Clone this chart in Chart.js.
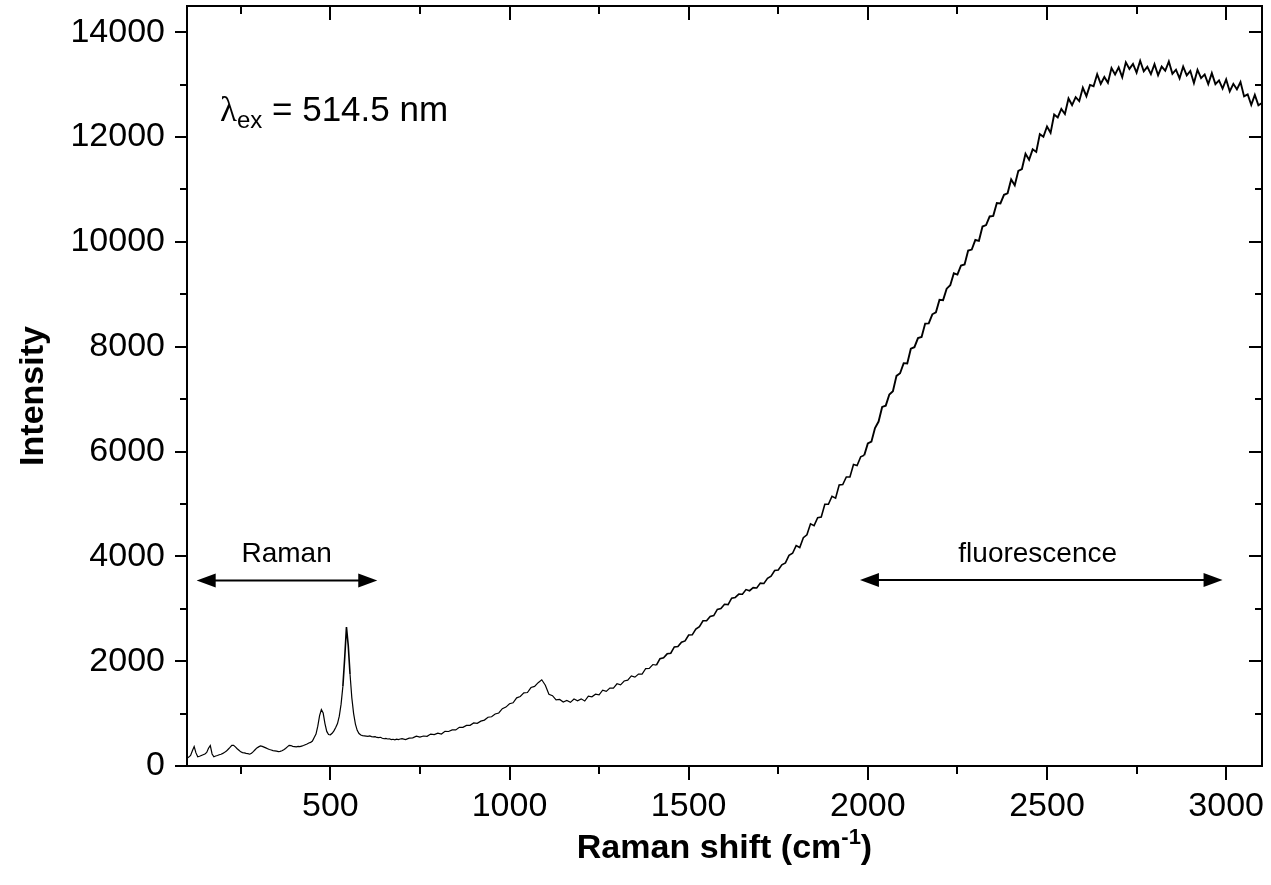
<!DOCTYPE html>
<html>
<head>
<meta charset="utf-8">
<script src="https://cdn.jsdelivr.net/npm/chart.js@4/dist/chart.umd.min.js"></script>
<style>
  body { margin: 0; background: #fff; }
  canvas { display: block; }
</style>
</head>
<body>
<canvas id="ramanChart" width="1271" height="885"></canvas>
<script>
// Raman shift sampling: low part every 5 cm-1 from 100, high part every 10 cm-1 from 700
var lowStart = 100, lowStep = 5;
var highStart = 700, highStep = 10;

// Intensity, 100..695 cm-1
var lowIntensity = [
    150, 170, 200, 290, 370, 250, 175, 185, 200, 215,
    230, 260, 340, 390, 230, 175, 190, 200, 215, 225,
    240, 260, 285, 320, 355, 395, 395, 365, 330, 300,
    270, 255, 250, 240, 235, 225, 245, 275, 310, 345,
    365, 385, 375, 360, 345, 330, 315, 305, 295, 290,
    285, 275, 280, 290, 310, 335, 365, 395, 390, 375,
    370, 365, 375, 370, 380, 390, 405, 420, 440, 450,
    475, 545, 610, 760, 960, 1075, 1010, 810, 660, 600,
    595, 625, 670, 735, 810, 950, 1180, 1520, 2050, 2650,
    2300, 1750, 1300, 1000, 800, 680, 620, 590, 580, 575,
    570, 565, 575, 560, 555, 560, 545, 540, 548, 530,
    520, 525, 515, 520, 505, 510, 500, 512, 505, 515
];

// Intensity, 700..3100 cm-1
var highIntensity = [
    522, 504, 531, 536, 570, 550, 572, 567, 609, 599,
    628, 610, 661, 658, 690, 688, 738, 737, 774, 776,
    822, 814, 856, 876, 930, 940, 992, 1012, 1094, 1124,
    1188, 1205, 1300, 1327, 1395, 1402, 1497, 1518, 1590, 1645,
    1540, 1368, 1342, 1262, 1270, 1220, 1249, 1214, 1278, 1243,
    1281, 1240, 1332, 1321, 1370, 1356, 1446, 1424, 1488, 1487,
    1569, 1548, 1622, 1637, 1720, 1695, 1754, 1754, 1858, 1863,
    1936, 1925, 2047, 2066, 2140, 2151, 2271, 2279, 2363, 2387,
    2499, 2503, 2612, 2657, 2770, 2770, 2854, 2869, 2988, 3003,
    3086, 3080, 3202, 3216, 3280, 3276, 3366, 3344, 3403, 3397,
    3489, 3483, 3582, 3622, 3730, 3740, 3839, 3874, 4018, 4058,
    4204, 4168, 4357, 4412, 4620, 4585, 4739, 4749, 4993, 4993,
    5146, 5110, 5362, 5371, 5515, 5516, 5751, 5734, 5898, 5927,
    6154, 6188, 6447, 6572, 6850, 6875, 7089, 7149, 7443, 7493,
    7686, 7680, 7962, 7991, 8165, 8186, 8441, 8444, 8618, 8657,
    8894, 8888, 9107, 9172, 9400, 9375, 9549, 9569, 9833, 9853,
    10036, 10020, 10292, 10321, 10485, 10496, 10741, 10734, 10898, 10927,
    11190, 11080, 11355, 11390, 11680, 11565, 11765, 11715, 12055, 12005,
    12200, 12080, 12430, 12375, 12535, 12440, 12735, 12610, 12760, 12685,
    12940, 12780, 12995, 12970, 13200, 13015, 13145, 13035, 13315, 13195,
    13330, 13140, 13425, 13300, 13395, 13230, 13455, 13255, 13340, 13200,
    13390, 13180, 13345, 13265, 13440, 13205, 13285, 13120, 13345, 13175,
    13260, 13030, 13280, 13125, 13195, 13010, 13220, 13010, 13080, 12925,
    13100, 12870, 13015, 12910, 13050, 12775, 12815, 12615, 12805, 12605,
    12650
];

var xTicks = [500, 1000, 1500, 2000, 2500, 3000];
var xMinorTicks = [250, 750, 1250, 1750, 2250, 2750];
var yTicks = [0, 2000, 4000, 6000, 8000, 10000, 12000, 14000];
var yMinorTicks = [1000, 3000, 5000, 7000, 9000, 11000, 13000];

var FONT = "'Liberation Sans', Arial, sans-serif";

// build the {x, y} points for the line
var points = [];
lowIntensity.forEach(function(v, i) {
    points.push({ x: lowStart + i * lowStep, y: v });
});
highIntensity.forEach(function(v, i) {
    points.push({ x: highStart + i * highStep, y: v });
});

// draw a run of text pieces (for sub/superscripts)
function drawPieces(ctx, pieces, x, y, align) {
    var total = 0;
    pieces.forEach(function(p) {
        ctx.font = p.font;
        p.w = ctx.measureText(p.text).width;
        total += p.w;
    });
    var cx = align === 'center' ? x - total / 2 : x;
    ctx.textAlign = 'left';
    ctx.textBaseline = 'alphabetic';
    pieces.forEach(function(p) {
        ctx.font = p.font;
        ctx.fillText(p.text, cx, y + (p.dy || 0));
        cx += p.w;
    });
}

function drawArrow(ctx, x1, x2, y) {
    var head = 19, half = 7;
    ctx.beginPath();
    ctx.moveTo(x1 + head - 2, y);
    ctx.lineTo(x2 - head + 2, y);
    ctx.lineWidth = 2;
    ctx.stroke();
    ctx.beginPath();
    ctx.moveTo(x1, y);
    ctx.lineTo(x1 + head, y - half);
    ctx.lineTo(x1 + head, y + half);
    ctx.closePath();
    ctx.fill();
    ctx.beginPath();
    ctx.moveTo(x2, y);
    ctx.lineTo(x2 - head, y - half);
    ctx.lineTo(x2 - head, y + half);
    ctx.closePath();
    ctx.fill();
}

var framePlugin = {
    id: 'frame',
    afterDraw: function(chart) {
        var ctx = chart.ctx;
        var a = chart.chartArea;
        var xs = chart.scales.x, ys = chart.scales.y;
        ctx.save();
        ctx.strokeStyle = '#000';
        ctx.fillStyle = '#000';

        // frame
        ctx.lineWidth = 2;
        ctx.strokeRect(a.left, a.top, a.right - a.left, a.bottom - a.top);

        // ticks: outside on bottom/left, inside on top/right
        ctx.beginPath();
        xTicks.forEach(function(v) {
            var px = Math.round(xs.getPixelForValue(v));
            ctx.moveTo(px, a.bottom); ctx.lineTo(px, a.bottom + 14);
            ctx.moveTo(px, a.top); ctx.lineTo(px, a.top + 14);
        });
        xMinorTicks.forEach(function(v) {
            var px = Math.round(xs.getPixelForValue(v));
            ctx.moveTo(px, a.bottom); ctx.lineTo(px, a.bottom + 8);
            ctx.moveTo(px, a.top); ctx.lineTo(px, a.top + 8);
        });
        yTicks.forEach(function(v) {
            var py = Math.round(ys.getPixelForValue(v));
            ctx.moveTo(a.left, py); ctx.lineTo(a.left - 12, py);
            ctx.moveTo(a.right, py); ctx.lineTo(a.right - 13, py);
        });
        yMinorTicks.forEach(function(v) {
            var py = Math.round(ys.getPixelForValue(v));
            ctx.moveTo(a.left, py); ctx.lineTo(a.left - 7, py);
            ctx.moveTo(a.right, py); ctx.lineTo(a.right - 7, py);
        });
        ctx.lineWidth = 2;
        ctx.stroke();

        // axis titles
        drawPieces(ctx, [
            { text: 'Raman shift (cm', font: 'bold 34px ' + FONT },
            { text: '-1', font: 'bold 22px ' + FONT, dy: -14 },
            { text: ')', font: 'bold 34px ' + FONT }
        ], (a.left + a.right) / 2, 858, 'center');

        ctx.save();
        ctx.translate(43, 396);
        ctx.rotate(-Math.PI / 2);
        ctx.font = 'bold 34px ' + FONT;
        ctx.textAlign = 'center';
        ctx.textBaseline = 'alphabetic';
        ctx.fillText('Intensity', 0, 0);
        ctx.restore();

        // annotations, placed in data coordinates
        drawPieces(ctx, [
            { text: 'λ', font: "35px 'Liberation Serif', serif" },
            { text: 'ex', font: '24px ' + FONT, dy: 7 },
            { text: ' = 514.5 nm', font: '35px ' + FONT }
        ], xs.getPixelForValue(192), ys.getPixelForValue(12300), 'left');

        ctx.font = '28px ' + FONT;
        ctx.textAlign = 'center';
        ctx.textBaseline = 'alphabetic';
        ctx.fillText('Raman', xs.getPixelForValue(378), ys.getPixelForValue(3900));
        ctx.fillText('fluorescence', xs.getPixelForValue(2474), ys.getPixelForValue(3900));

        drawArrow(ctx, xs.getPixelForValue(127), xs.getPixelForValue(631), ys.getPixelForValue(3540));
        drawArrow(ctx, xs.getPixelForValue(1978), xs.getPixelForValue(2990), ys.getPixelForValue(3550));

        ctx.restore();
    }
};

function plainLabel(v) { return String(v); }

var ctx = document.getElementById('ramanChart');
var ramanChart = new Chart(ctx, {
    type: 'line',
    data: {
        datasets: [{
            data: points,
            borderColor: '#000',
            borderWidth: 1.3,
            pointRadius: 0,
            tension: 0,
            fill: false,
            segment: {
                // the noisy fluorescence part reads as a thicker trace
                borderWidth: function(c) {
                    var y = Math.max(c.p0.parsed.y, c.p1.parsed.y);
                    return y > 6000 ? 1.9 : (y > 2000 ? 1.6 : 1.2);
                }
            }
        }]
    },
    options: {
        responsive: false,
        animation: false,
        layout: { padding: { top: 6, right: 9, left: 0, bottom: 0 } },
        plugins: {
            legend: { display: false },
            tooltip: { enabled: false }
        },
        scales: {
            x: {
                type: 'linear',
                min: 100,
                max: 3100,
                grid: { display: false, drawTicks: false },
                border: { display: false },
                ticks: {
                    color: '#000',
                    font: { family: FONT, size: 34 },
                    padding: 20,
                    maxRotation: 0,
                    callback: plainLabel
                },
                afterBuildTicks: function(scale) {
                    scale.ticks = xTicks.map(function(v) { return { value: v }; });
                },
                afterFit: function(scale) {
                    scale.height = 119;
                    scale.paddingLeft = 0;
                    scale.paddingRight = 0;
                }
            },
            y: {
                type: 'linear',
                min: 0,
                max: 14500,
                grid: { display: false, drawTicks: false },
                border: { display: false },
                ticks: {
                    color: '#000',
                    font: { family: FONT, size: 34 },
                    padding: 22,
                    callback: plainLabel
                },
                afterBuildTicks: function(scale) {
                    scale.ticks = yTicks.map(function(v) { return { value: v }; });
                },
                afterFit: function(scale) {
                    scale.width = 187;
                    scale.paddingTop = 0;
                    scale.paddingBottom = 0;
                }
            }
        }
    },
    plugins: [framePlugin]
});
</script>
</body>
</html>
